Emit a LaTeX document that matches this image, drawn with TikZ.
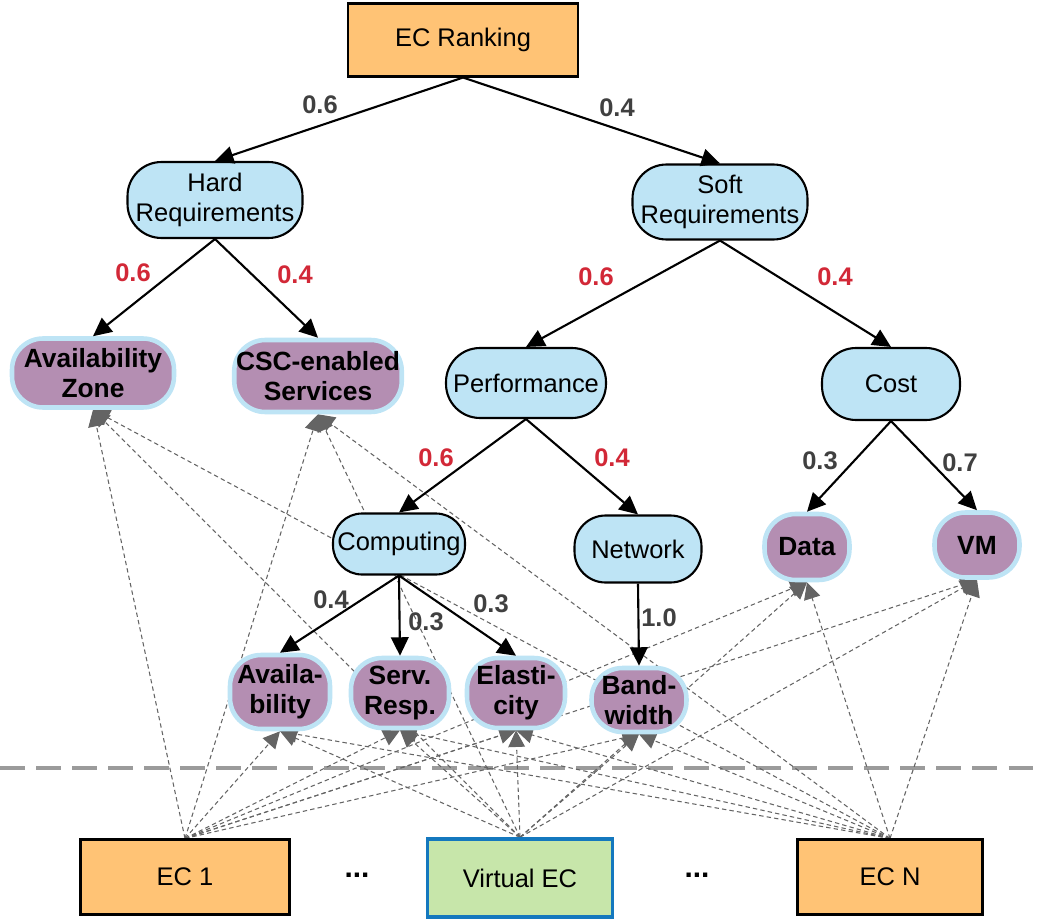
\documentclass[tikz,border=0pt]{standalone}
\usepackage{fontspec}
\setmainfont{Liberation Sans}
\usetikzlibrary{arrows.meta,backgrounds}
\definecolor{ecorange}{RGB}{255,195,117}
\definecolor{reqblue}{RGB}{190,228,245}
\definecolor{leafpurple}{RGB}{180,142,178}
\definecolor{vecgreen}{RGB}{199,230,170}
\definecolor{vecblue}{RGB}{20,120,190}
\definecolor{linkgray}{RGB}{100,100,100}
\definecolor{sepgray}{RGB}{155,155,155}
\definecolor{wgtgray}{RGB}{64,64,64}
\definecolor{wgtred}{RGB}{210,40,55}
\newcommand{\diagfont}{\fontsize{14.5pt}{17pt}\selectfont}
\tikzset{
  ecbox/.style={draw=black, line width=1.2pt, fill=ecorange, font=\diagfont,
    minimum width=3.7cm, minimum height=1.5cm},
  crit/.style={draw=black, line width=1.2pt, fill=reqblue, rounded corners=0.68cm,
    align=center, inner sep=1pt, font=\diagfont},
  leaf/.style={draw=reqblue, line width=2.6pt, fill=leafpurple, rounded corners=0.62cm,
    align=center, inner sep=1pt, font=\fontsize{15pt}{17pt}\selectfont\bfseries},
  wgt/.style={text=wgtgray, font=\diagfont\bfseries},
  rwgt/.style={text=wgtred, font=\diagfont\bfseries},
  tree/.style={draw=black, line width=1.2pt, -{Triangle[length=10.5pt,width=10pt]}},
  link/.style={draw=linkgray, line width=0.6pt, dash pattern=on 2.5pt off 1.8pt,
    -{Triangle[length=9.5pt,width=9.5pt]}},
  sepline/.style={draw=sepgray, line width=1.8pt, dash pattern=on 14pt off 6.5pt}
}
\begin{document}
\begin{tikzpicture}[x=0.02cm,y=-0.02cm]
  \useasboundingbox (0,0) rectangle (1041,922);
  % criteria tree
  \node[ecbox, minimum width=4.6cm, minimum height=1.46cm] (rank) at (463,40) {EC Ranking};
  \node[crit, minimum width=3.5cm, minimum height=1.52cm] (hard) at (215,200) {Hard\\Requirements};
  \node[crit, minimum width=3.5cm, minimum height=1.5cm] (soft) at (720,202) {Soft\\Requirements};
  \node[leaf, minimum width=3.24cm, minimum height=1.38cm] (az) at (93,373) {Availability\\Zone};
  \node[leaf, minimum width=3.3cm, minimum height=1.44cm] (csc) at (318,376) {CSC-enabled\\Services};
  \node[crit, minimum width=3.2cm, minimum height=1.4cm] (perf) at (526,383) {Performance};
  \node[crit, minimum width=2.76cm, minimum height=1.44cm] (cost) at (891,384) {Cost};
  \node[crit, minimum width=2.64cm, minimum height=1.22cm, rounded corners=0.58cm] (comp) at (399,544) {Computing};
  \node[crit, minimum width=2.54cm, minimum height=1.34cm, rounded corners=0.62cm] (net) at (638,549) {Network};
  \node[leaf, minimum width=1.7cm, minimum height=1.32cm] (data) at (807,547) {Data};
  \node[leaf, minimum width=1.7cm, minimum height=1.3cm] (vm) at (977,545) {VM};
  \node[leaf, minimum width=2.0cm, minimum height=1.48cm] (avail) at (280,692) {Availa-\\bility};
  \node[leaf, minimum width=1.96cm, minimum height=1.4cm] (resp) at (400,693) {Serv.\\Resp.};
  \node[leaf, minimum width=1.96cm, minimum height=1.4cm] (elast) at (516,693) {Elasti-\\city};
  \node[leaf, minimum width=1.9cm, minimum height=1.28cm] (band) at (639,700) {Band-\\width};
  % cloud providers
  \node[ecbox, minimum width=4.18cm] (ec1) at (185,877) {EC 1};
  \node[ecbox, fill=vecgreen, draw=vecblue, line width=2pt, minimum height=1.56cm] (vec) at (520,878) {Virtual EC};
  \node[ecbox] (ecn) at (890,877) {EC N};
  \node[font=\fontsize{17pt}{17pt}\selectfont\bfseries] (dots1) at (357,875) {...};
  \node[font=\fontsize{17pt}{17pt}\selectfont\bfseries] (dots2) at (697,875) {...};
  % weights
  \node[wgt] (w1) at (320,105) {0.6};
  \node[wgt] (w2) at (617,108) {0.4};
  \node[rwgt] (w3) at (133,273) {0.6};
  \node[rwgt] (w4) at (295,275) {0.4};
  \node[rwgt] (w5) at (596,277) {0.6};
  \node[rwgt] (w6) at (835,277) {0.4};
  \node[rwgt] (w7) at (436,458) {0.6};
  \node[rwgt] (w8) at (612,458) {0.4};
  \node[wgt] (w9) at (820,461) {0.3};
  \node[wgt] (w10) at (960,463) {0.7};
  \node[wgt] (w11) at (331,600) {0.4};
  \node[wgt] (w12) at (426,622) {0.3};
  \node[wgt] (w13) at (491,604) {0.3};
  \node[wgt] (w14) at (659,618) {1.0};
  \begin{scope}[tree]
    \draw (rank.south) to (hard.north);
    \draw (rank.south) to (soft.north);
    \draw (hard.south) to (az.north);
    \draw (hard.south) to (csc.north);
    \draw (soft.south) to (perf.north);
    \draw (soft.south) to (cost.north);
    \draw (perf.south) to (comp.north);
    \draw (perf.south) to (net.north);
    \draw (cost.south) to (data.north);
    \draw (cost.south) to (vm.north);
    \draw (comp.south) to (avail.north);
    \draw (comp.south) to (resp.north);
    \draw (comp.south) to (elast.north);
    \draw (net.south) to (band.north);
  \end{scope}
  \begin{pgfonlayer}{background}
    \draw[sepline] (0,768) -- (1041,768);
    \begin{scope}[link]
      \draw (ec1.north) to (az.south);
      \draw (ec1.north) to (csc.south);
      \draw (ec1.north) to (avail.south);
      \draw (ec1.north) to (resp.south);
      \draw (ec1.north) to (elast.south);
      \draw (ec1.north) to (band.south);
      \draw (ec1.north) to (data.south);
      \draw (ec1.north) to (vm.south);
      \draw (vec.north) to (az.south);
      \draw (vec.north) to (csc.south);
      \draw (vec.north) to (avail.south);
      \draw (vec.north) to (resp.south);
      \draw (vec.north) to (elast.south);
      \draw (vec.north) to (band.south);
      \draw (vec.north) to (data.south);
      \draw (vec.north) to (vm.south);
      \draw (ecn.north) to (az.south);
      \draw (ecn.north) to (csc.south);
      \draw (ecn.north) to (avail.south);
      \draw (ecn.north) to (resp.south);
      \draw (ecn.north) to (elast.south);
      \draw (ecn.north) to (band.south);
      \draw (ecn.north) to (data.south);
      \draw (ecn.north) to (vm.south);
    \end{scope}
  \end{pgfonlayer}
\end{tikzpicture}
\end{document}
